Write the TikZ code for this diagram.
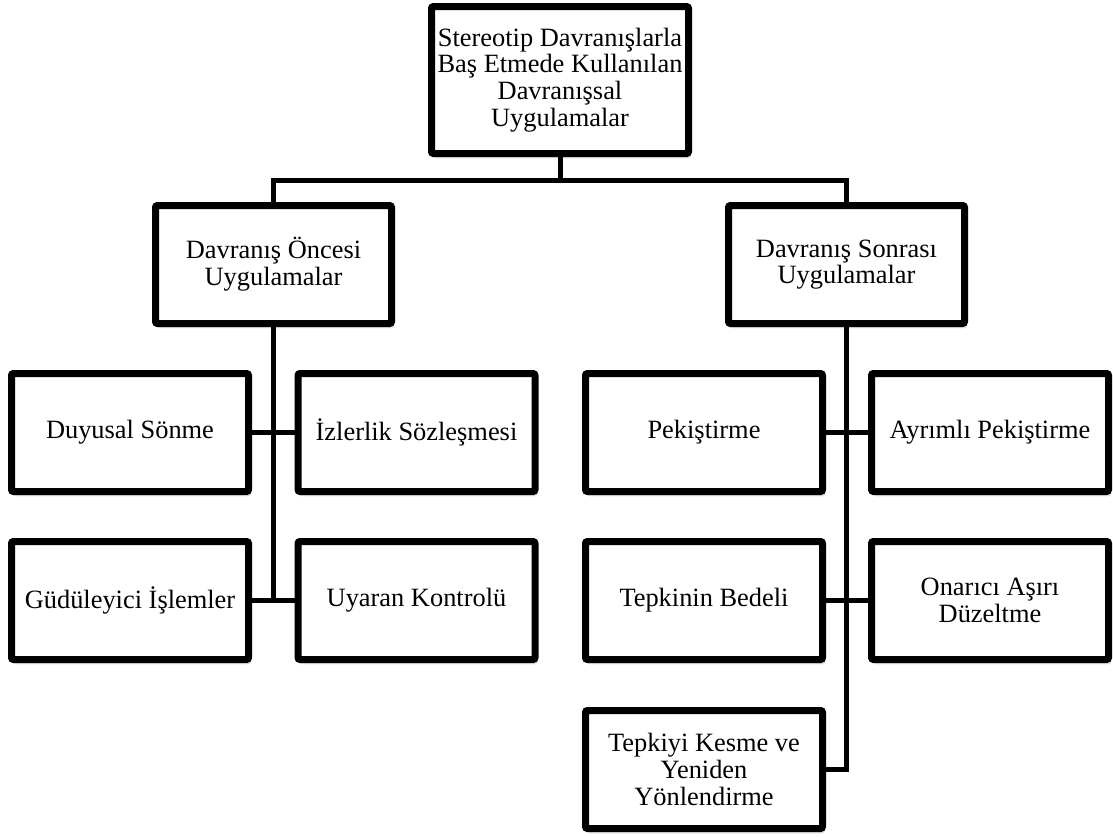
\documentclass[tikz,border=0pt]{standalone}
\usepackage{fontspec}
\setmainfont{Liberation Serif}
\usetikzlibrary{shadows}

\begin{document}
\begin{tikzpicture}[x=1pt, y=1pt,
    box/.style={draw, line width=3.5pt, fill=white, rounded corners=1pt, align=center, inner sep=2pt,
        minimum width=118.5pt, minimum height=59pt, font=\fontsize{13.2}{13.4}\selectfont,
        drop shadow={shadow xshift=1.2pt, shadow yshift=-2.4pt, opacity=0.22}},
    conn/.style={line width=2.5pt}]
    \useasboundingbox (0,0) rectangle (556.5,-418.5);

    \node[box, minimum width=128.5pt, minimum height=73.5pt] (main) at (280,-40) {Stereotip Davranışlarla\\Baş Etmede Kullanılan\\Davranışsal\\Uygulamalar};
    \coordinate (bar) at (280,-90);

    \node[box, minimum width=118pt] (pre) at (136.75,-132.25) {Davranış Öncesi\\Uygulamalar};
    \node[box, minimum width=118pt] (post) at (423.25,-132.25) {Davranış Sonrası\\Uygulamalar};

    \node[box] (duyusal) at (65,-216.25) {Duyusal Sönme};
    \node[box] (izlerlik) at (208.25,-216.25) {İzlerlik Sözleşmesi};
    \node[box] (gudu) at (65,-300.25) {Güdüleyici İşlemler};
    \node[box] (uyaran) at (208.25,-300.25) {Uyaran Kontrolü};

    \node[box] (pekis) at (352,-216.25) {Pekiştirme};
    \node[box] (ayrimli) at (495,-216.25) {Ayrımlı Pekiştirme};
    \node[box] (bedel) at (352,-300.25) {Tepkinin Bedeli};
    \node[box] (onarici) at (495,-300.25) {Onarıcı Aşırı\\Düzeltme};
    \node[box] (kesme) at (352,-384.75) {Tepkiyi Kesme ve\\Yeniden\\Yönlendirme};

    \draw[conn] (main.south) -- (bar);
    \draw[conn] (pre.north) |- (bar) -| (post.north);

    \draw[conn] (pre.south) -- (pre.south |- gudu.east);
    \draw[conn] (duyusal.east) -- (izlerlik.west);
    \draw[conn] (gudu.east) -- (uyaran.west);

    \draw[conn] (post.south) |- (kesme.east);
    \draw[conn] (pekis.east) -- (ayrimli.west);
    \draw[conn] (bedel.east) -- (onarici.west);
\end{tikzpicture}
\end{document}
